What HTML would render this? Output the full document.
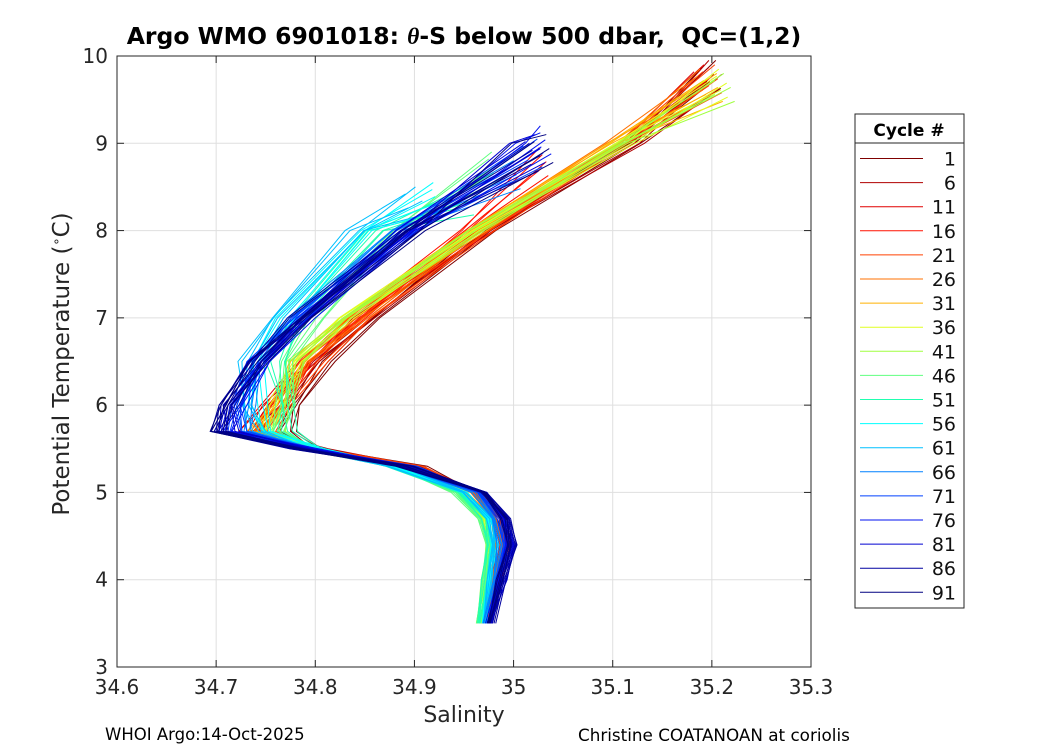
<!DOCTYPE html>
<html><head><meta charset="utf-8"><style>
body{margin:0;background:#fff;font-family:"Liberation Sans","DejaVu Sans",sans-serif}
svg text{font-family:"DejaVu Sans","Liberation Sans",sans-serif}
</style></head><body>
<svg id="c" width="1050" height="750" xmlns="http://www.w3.org/2000/svg"></svg>
<script>
const xTicks=[34.6,34.7,34.8,34.9,35,35.1,35.2,35.3];
const yTicks=[3,4,5,6,7,8,9,10];
const cycles=[1,6,11,16,21,26,31,36,41,46,51,56,61,66,71,76,81,86,91];
const colors=['#7f0000','#b00000','#e00000','#ff1000','#ff4000','#ff7000','#ffb000','#e0ff20','#a0ff40','#60ff80','#20ffb0','#00ffff','#00c0ff','#0080ff','#0040ff','#0010f0','#0000d0','#0000a0','#000080'];
const tLevels=[9.9,9.0,8.0,7.0,6.5,6.0,5.7,5.5,5.3,5.0,4.7,4.4,4.0,3.5];
const sal=[
[35.20,35.12,34.97,34.86,34.81,34.78,34.77,34.80,34.90,34.96,34.985,34.995,34.985,34.975],
[35.20,35.12,34.97,34.85,34.80,34.76,34.74,34.80,34.90,34.965,34.99,34.99,34.985,34.975],
[35.19,35.11,34.97,34.84,34.79,34.75,34.73,34.79,34.89,34.96,34.985,34.99,34.98,34.972],
[35.03,35.03,34.95,34.84,34.79,34.76,34.74,34.79,34.89,34.96,34.98,34.985,34.98,34.97],
[35.20,35.11,34.97,34.85,34.80,34.77,34.75,34.80,34.90,34.96,34.985,34.99,34.98,34.975],
[35.19,35.10,34.96,34.84,34.79,34.76,34.74,34.79,34.89,34.955,34.98,34.985,34.98,34.97],
[35.20,35.10,34.96,34.83,34.78,34.76,34.74,34.79,34.89,34.95,34.975,34.98,34.975,34.97],
[35.21,35.11,34.96,34.83,34.78,34.76,34.75,34.79,34.88,34.95,34.97,34.975,34.972,34.965],
[35.21,35.11,34.96,34.83,34.78,34.77,34.76,34.79,34.88,34.945,34.97,34.975,34.97,34.965],
[34.98,34.95,34.88,34.80,34.77,34.77,34.76,34.79,34.88,34.94,34.965,34.975,34.97,34.965],
[34.95,34.92,34.86,34.78,34.76,34.77,34.77,34.80,34.88,34.945,34.97,34.975,34.97,34.965],
[34.92,34.90,34.85,34.77,34.74,34.74,34.75,34.80,34.88,34.95,34.975,34.98,34.975,34.97],
[34.90,34.89,34.84,34.76,34.73,34.73,34.74,34.79,34.88,34.95,34.975,34.98,34.975,34.97],
[35.0,34.99,34.88,34.78,34.74,34.73,34.73,34.79,34.89,34.96,34.98,34.985,34.98,34.972],
[35.02,35.0,34.89,34.78,34.74,34.72,34.72,34.79,34.89,34.965,34.985,34.99,34.985,34.975],
[35.03,35.01,34.90,34.79,34.75,34.72,34.71,34.79,34.89,34.97,34.99,34.995,34.985,34.975],
[35.02,35.0,34.89,34.79,34.74,34.71,34.71,34.79,34.89,34.97,34.99,35.0,34.99,34.975],
[35.02,34.99,34.89,34.78,34.74,34.71,34.70,34.78,34.89,34.97,34.995,35.0,34.99,34.978],
[35.03,35.0,34.90,34.79,34.74,34.71,34.70,34.78,34.89,34.97,34.99,34.995,34.985,34.975]];
const topT=[9.95,9.95,9.9,8.95,9.9,9.85,9.8,9.85,9.8,8.9,8.5,8.55,8.5,8.8,9.05,9.2,9.1,9.0,9.1];
const ns='http://www.w3.org/2000/svg';
const svg=document.getElementById('c');
const X0=117,X1=811,Y0=667,Y1=56;
const sx=v=>X0+(v-34.6)/0.7*(X1-X0);
const sy=v=>Y0-(v-3)/7*(Y0-Y1);
function mk(t,a,p){const e=document.createElementNS(ns,t);for(const k in a)e.setAttribute(k,a[k]);(p||svg).appendChild(e);return e;}
const grid=mk('g',{});


xTicks.forEach(v=>{mk('line',{x1:sx(v),x2:sx(v),y1:Y1,y2:Y0,stroke:'#dfdfdf'},grid);
 const t=mk('text',{x:sx(v),y:Y0+27,'text-anchor':'middle','font-size':20,fill:'#262626'});t.textContent=String(v);
 
 });
yTicks.forEach(v=>{mk('line',{x1:X0,x2:X1,y1:sy(v),y2:sy(v),stroke:'#dfdfdf'},grid);
 const t=mk('text',{x:X0-9,y:sy(v)+7,'text-anchor':'end','font-size':20,fill:'#262626'});t.textContent=String(v);
 
 });
const lines=mk('g',{fill:'none','stroke-width':1});


const offs=[0,-0.006,0.005,-0.003,0.008];
const jit=[0.004,-0.003,0.002,-0.004,0.003,-0.002,0.005,-0.003,0.002,-0.002,0.001,-0.001,0.001,0];
sal.forEach((s,i)=>{
 offs.forEach((o,j)=>{
  const tt=topT[i]-j*0.08;
  const pts=[];
  s.forEach((v,k)=>{
   const w=v+(k<9?o:o*0.3)+jit[(k+j*3+i)%14]*(k<9?1:0.4);
   if(k===0){pts.push(sx(w)+','+sy(tt));}
   else if(tLevels[k]<tt-0.05){pts.push(sx(w)+','+sy(tLevels[k]));}
  });
  const p=mk('polyline',{points:pts.join(' '),stroke:colors[i]},lines);
  
  
 });
});
const ax=mk('rect',{x:X0,y:Y1,width:X1-X0,height:Y0-Y1,fill:'none',stroke:'#262626'});


xTicks.forEach(v=>{mk('line',{x1:sx(v),x2:sx(v),y1:Y0,y2:Y0-7,stroke:'#262626'});mk('line',{x1:sx(v),x2:sx(v),y1:Y1,y2:Y1+7,stroke:'#262626'});});
yTicks.forEach(v=>{mk('line',{x1:X0,x2:X0+7,y1:sy(v),y2:sy(v),stroke:'#262626'});mk('line',{x1:X1,x2:X1-7,y1:sy(v),y2:sy(v),stroke:'#262626'});});
const lg=mk('g',{});


mk('rect',{x:855,y:114,width:109,height:494,fill:'#fff',stroke:'#262626'},lg);
mk('line',{x1:855,x2:964,y1:143,y2:143,stroke:'#262626'},lg);
const lt=mk('text',{x:909,y:136,'text-anchor':'middle','font-size':17,'font-weight':'bold'},lg);lt.textContent='Cycle #';


cycles.forEach((c,i)=>{const y=158.5+i*24.1;
 const g=mk('g',{},lg);
 
 
 mk('line',{x1:860,x2:923,y1:y,y2:y,stroke:colors[i]},g);
 const t=mk('text',{x:956,y:y+7,'text-anchor':'end','font-size':19,fill:'#111'},g);t.textContent=c;});
</script>
<div style="position:absolute;left:0;top:0;width:1050px;height:750px;pointer-events:none">
<div style="position:absolute;left:117px;width:694px;top:22px;text-align:center;font:bold 23.5px 'DejaVu Sans','Liberation Sans',sans-serif;color:#000;white-space:nowrap">Argo WMO 6901018: <i style="font-family:'Liberation Serif',serif">θ</i>-S below 500 dbar,&nbsp; QC=(1,2)</div>
<div style="position:absolute;left:117px;width:694px;top:703px;text-align:center;font:22px 'DejaVu Sans',sans-serif;color:#262626">Salinity</div>
<div style="position:absolute;left:62px;top:364px;transform:translate(-50%,-50%) rotate(-90deg);white-space:nowrap;font:23px 'DejaVu Sans',sans-serif;color:#262626">Potential Temperature (<sup style="font-size:13px">∘</sup>C)</div>
<div style="position:absolute;left:105px;top:725px;font:16.5px 'DejaVu Sans',sans-serif">WHOI Argo:14-Oct-2025</div>
<div style="position:absolute;left:578px;top:725px;font:16.8px 'DejaVu Sans',sans-serif;white-space:nowrap">Christine COATANOAN at coriolis</div>
</div>
</body></html>
